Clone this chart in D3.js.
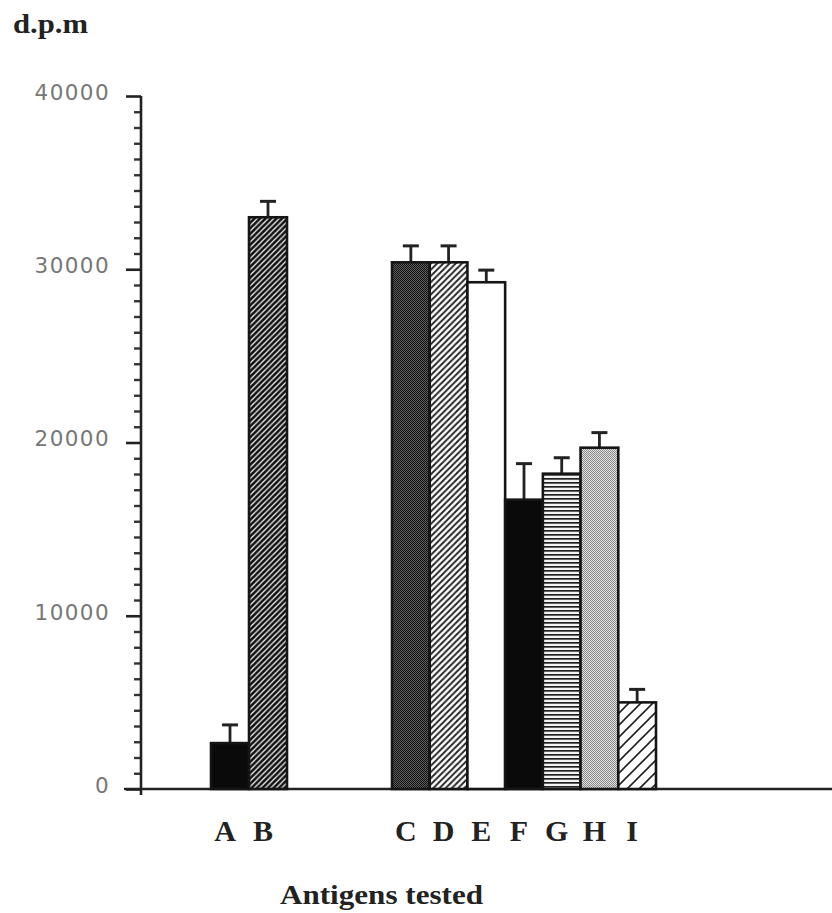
<!DOCTYPE html>
<html>
<head>
<meta charset="utf-8">
<script src="https://cdn.jsdelivr.net/npm/d3@7/dist/d3.min.js"></script>
<style>
  html, body { margin: 0; padding: 0; background: #fff; }
  svg { display: block; }
</style>
</head>
<body>
<svg id="chart" width="832" height="913"></svg>
<script>
// ---- data ----
const categories = ["A", "B", "C", "D", "E", "F", "G", "H", "I"];
const values = [2650, 33000, 30400, 30400, 29250, 16700, 18200, 19700, 5000];
const errors = [1050, 920, 950, 950, 700, 2080, 920, 870, 750];
const groups = [["A", "B"], ["C", "D", "E", "F", "G", "H", "I"]];
const yTickValues = [0, 10000, 20000, 30000, 40000];
const yTickLabels = ["0", "10000", "20000", "30000", "40000"];
const yLabel = "d.p.m";
const xLabel = "Antigens tested";

// ---- layout ----
const svg = d3.select("#chart");
const y = d3.scaleLinear().domain([0, 40000]).range([789, 96]);
const axisX = 141;

// two groups of bars, each drawn with its own band scale
const groupRanges = [[211, 287], [392, 656]];
const xScales = groups.map((g, i) => d3.scaleBand().domain(g).range(groupRanges[i]).padding(0));
function xOf(c) { const gi = groups.findIndex(g => g.includes(c)); return xScales[gi]; }

// ---- patterns ----
const defs = svg.append("defs");
function hatch(id, size, sw, color) {
  const p = defs.append("pattern").attr("id", id).attr("patternUnits", "userSpaceOnUse")
    .attr("width", size).attr("height", size);
  p.append("rect").attr("width", size).attr("height", size).attr("fill", "#fff");
  p.append("path")
    .attr("d", `M0,${size} L${size},0 M${-size/4},${size/4} L${size/4},${-size/4} M${size*3/4},${size*5/4} L${size*5/4},${size*3/4}`)
    .attr("stroke", color).attr("stroke-width", sw);
}
hatch("hatchB", 5.5, 2.7, "#111");
hatch("hatchD", 6.2, 1.9, "#222");
hatch("hatchI", 12, 1.6, "#222");

function checker(id, a, b) {
  const p = defs.append("pattern").attr("id", id).attr("patternUnits", "userSpaceOnUse")
    .attr("width", 2).attr("height", 2);
  p.append("rect").attr("width", 2).attr("height", 2).attr("fill", a);
  p.append("rect").attr("width", 1).attr("height", 1).attr("fill", b);
  p.append("rect").attr("x", 1).attr("y", 1).attr("width", 1).attr("height", 1).attr("fill", b);
}
checker("dotC", "#5a5a5a", "#151515");
checker("dotH", "#e0e0e0", "#8a8a8a");

(function () {
  const p = defs.append("pattern").attr("id", "linesG").attr("patternUnits", "userSpaceOnUse")
    .attr("width", 8).attr("height", 4);
  p.append("rect").attr("width", 8).attr("height", 4).attr("fill", "#f2f2f2");
  p.append("rect").attr("y", 2).attr("width", 8).attr("height", 1.7).attr("fill", "#222");
})();

const fills = {
  A: "#0a0a0a", B: "url(#hatchB)", C: "url(#dotC)", D: "url(#hatchD)", E: "#ffffff",
  F: "#0a0a0a", G: "url(#linesG)", H: "url(#dotH)", I: "url(#hatchI)"
};

// ---- axes ----
const fontTick = "'DejaVu Sans', sans-serif";
const yAxis = d3.axisLeft(y).tickValues(yTickValues)
  .tickFormat((d, i) => yTickLabels[i]).tickSize(15).tickSizeOuter(0).tickPadding(16);
const gy = svg.append("g").attr("transform", `translate(${axisX},0)`).call(yAxis);
gy.select(".domain").remove();
gy.selectAll(".tick line").attr("stroke", "#222").attr("stroke-width", 2.6);
gy.selectAll(".tick text").attr("font-family", fontTick).attr("font-size", 21.5)
  .attr("letter-spacing", "1.4px")
  .attr("fill", "#777").attr("dy", "0.16em");

// minor ticks: 10 between each pair of major ticks
const minor = [];
for (let k = 0; k < yTickValues.length - 1; k++) {
  const a = yTickValues[k], b = yTickValues[k + 1];
  for (let j = 1; j <= 10; j++) minor.push(a + (b - a) * j / 11);
}
const gyMinor = svg.append("g").attr("transform", `translate(${axisX},0)`)
  .call(d3.axisLeft(y).tickValues(minor).tickSize(7).tickSizeOuter(0).tickFormat(""));
gyMinor.select(".domain").remove();
gyMinor.selectAll(".tick line").attr("stroke", "#333").attr("stroke-width", 2.4)
  .attr("x2", -1).attr("x1", -7);

// axis lines
svg.append("line").attr("x1", axisX).attr("x2", axisX).attr("y1", y(40000)).attr("y2", y(0) + 6)
  .attr("stroke", "#222").attr("stroke-width", 2.6);
svg.append("line").attr("x1", 124).attr("x2", 832).attr("y1", y(0)).attr("y2", y(0))
  .attr("stroke", "#222").attr("stroke-width", 2.6);

// ---- bars ----
const data = categories.map((c, i) => ({ c, v: values[i], e: errors[i] }));
const gb = svg.append("g");
data.forEach(d => {
  const xs = xOf(d.c), cx = xs(d.c) + xs.bandwidth() / 2;
  gb.append("line").attr("x1", cx).attr("x2", cx).attr("y1", y(d.v)).attr("y2", y(d.v + d.e))
    .attr("stroke", "#222").attr("stroke-width", 2.8);
  gb.append("line").attr("x1", cx - 8).attr("x2", cx + 8).attr("y1", y(d.v + d.e)).attr("y2", y(d.v + d.e))
    .attr("stroke", "#222").attr("stroke-width", 3);
});
gb.selectAll("rect.bar").data(data).join("rect").attr("class", "bar")
  .attr("x", d => xOf(d.c)(d.c))
  .attr("width", d => xOf(d.c).bandwidth())
  .attr("y", d => y(d.v))
  .attr("height", d => y(0) - y(d.v))
  .attr("fill", d => fills[d.c])
  .attr("stroke", "#151515").attr("stroke-width", 2.6);

// ---- category labels ----
const serif = "'Liberation Serif', 'Times New Roman', serif";
svg.append("g").selectAll("text").data(categories).join("text")
  .attr("x", c => xOf(c)(c) + xOf(c).bandwidth() / 2 - 5)
  .attr("y", 841)
  .attr("text-anchor", "middle")
  .attr("font-family", serif).attr("font-weight", "bold").attr("font-size", 30)
  .attr("fill", "#222")
  .text(c => c);

// ---- titles ----
svg.append("text").attr("x", 13).attr("y", 33)
  .attr("font-family", serif).attr("font-weight", "bold").attr("font-size", 27)
  .attr("fill", "#222").attr("textLength", 75).attr("lengthAdjust", "spacingAndGlyphs")
  .text(yLabel);
svg.append("text").attr("x", 280).attr("y", 904)
  .attr("font-family", serif).attr("font-weight", "bold").attr("font-size", 28)
  .attr("fill", "#222").attr("textLength", 203).attr("lengthAdjust", "spacingAndGlyphs")
  .text(xLabel);
</script>
</body>
</html>
